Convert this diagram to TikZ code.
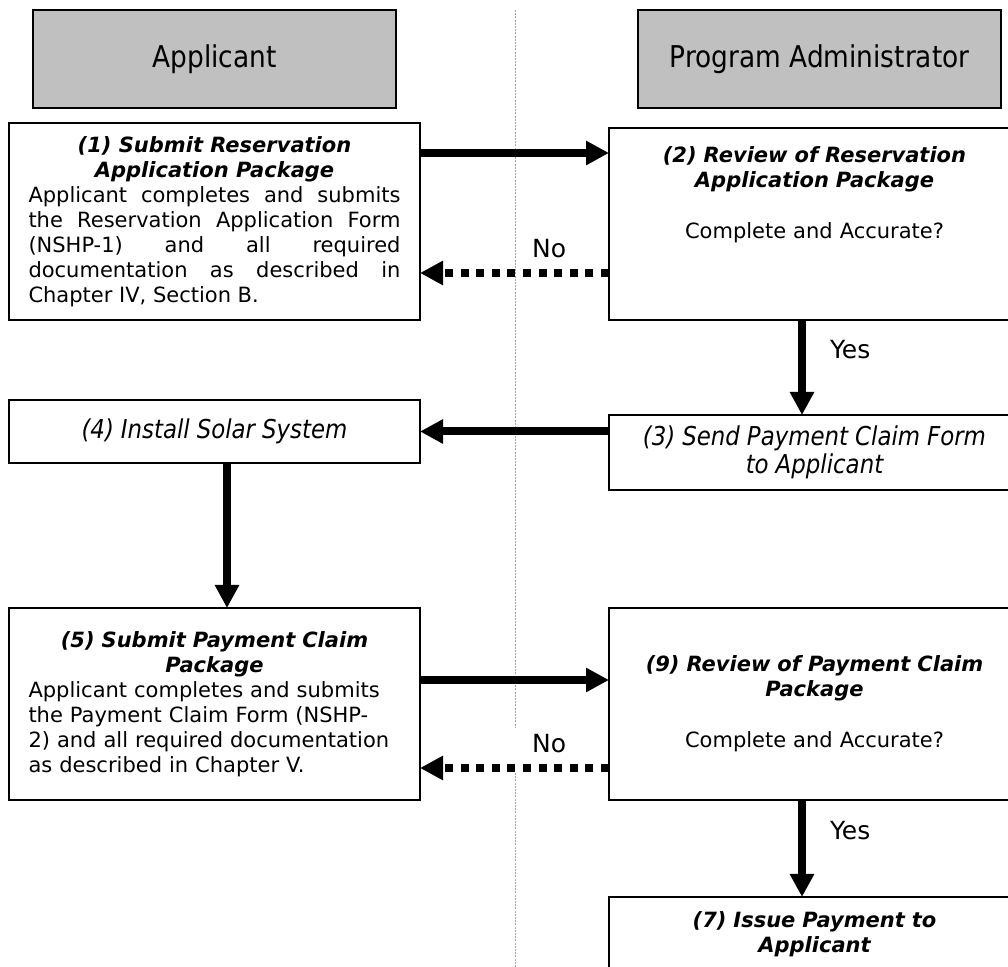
\documentclass[tikz,border=0pt]{standalone}
\usepackage{fontspec}
\setmainfont{DejaVu Sans}
\newfontfamily\narrowfont{DejaVu Sans}[FakeStretch=0.88]
\usetikzlibrary{positioning,arrows.meta}
\definecolor{laneGray}{RGB}{192,192,192}
\newcommand{\steptitle}{\bfseries\itshape}
\newcommand{\stepnarrow}{\narrowfont\itshape\fontsize{13}{14}\selectfont}
\setlength{\parindent}{0pt}
\hyphenpenalty=10000
\begin{document}
\begin{tikzpicture}[x=0.5pt,y=-0.5pt,
    font=\fontsize{10.5}{12.5}\selectfont,
    lane/.style={draw,line width=1pt,fill=laneGray,outer sep=0pt,minimum width=181.5pt,minimum height=49pt,
      font=\narrowfont\fontsize{15}{18}\selectfont},
    stepbox/.style={draw,line width=1pt,fill=white,outer sep=0pt,text width=186pt,inner xsep=9.75pt,inner ysep=0pt},
    flow/.style={line width=4pt,-{Triangle[length=11.5pt,width=11.5pt]}},
    noflow/.style={flow,dash pattern=on 4pt off 3.8pt},
    answer/.style={inner sep=0pt,font=\fontsize{12.5}{14}\selectfont},
    divider/.style={draw=gray!70,line width=0.5pt,dash pattern=on 1pt off 0.6pt}]
  \path[use as bounding box,clip] (0,0) rectangle (1008,967);
  % lane divider
  \draw[divider] (515,10) -- (515,728) (515,773) -- (515,967);
  % lanes
  \node[lane](hdrA) at (214.5,59) {Applicant};
  \node[lane](hdrP)[right=121pt of hdrA] {Program Administrator};
  % steps
  \node[stepbox,align=justify,minimum height=98.5pt](b1)[below=7.5pt of hdrA]{%
    {\centering\steptitle (1) Submit Reservation\\ Application Package\par}
    Applicant completes and submits\linebreak the Reservation Application Form\linebreak
    (NSHP-1) and all required\linebreak documentation as described in\linebreak
    Chapter IV, Section B.};
  \node[stepbox,align=center,minimum height=96pt](b2)[right=94.5pt of b1.south east,anchor=south west]{%
    {\steptitle (2) Review of Reservation\\ Application Package}\\[13pt]
    Complete and Accurate?\par\vspace{18.5pt}\mbox{}};
  \node[stepbox,align=center,minimum height=37.5pt](b3)[below=47.5pt of b2]{%
    {\stepnarrow (3) Send Payment Claim Form\\ to Applicant\par}};
  \node[stepbox,align=center,minimum height=31.5pt](b4)[below=40pt of b1]{%
    {\stepnarrow (4) Install Solar System}};
  \node[stepbox,align=left,minimum height=96pt](b5)[below=72.5pt of b4]{%
    {\centering\steptitle (5) Submit Payment Claim\\ Package\par}
    Applicant completes and submits\\ the Payment Claim Form (NSHP-\\
    2) and all required documentation\\ as described in Chapter V.};
  \node[stepbox,align=center,minimum height=96pt](b9)[right=94.5pt of b5]{%
    {\steptitle (9) Review of Payment Claim\\ Package}\\[13pt]
    Complete and Accurate?};
  \node[stepbox,align=center,minimum height=37.5pt](b7)[below=48.5pt of b9]{%
    {\steptitle (7) Issue Payment to\\ Applicant}};
  % connectors
  \draw[flow] ([yshift=-15pt]b1.north east) -- ([yshift=-12.5pt]b2.north west);
  \draw[noflow] ([yshift=23.5pt]b2.south west) -- node[answer,pos=0.317,above=5.5pt]{No} ([yshift=23.5pt]b1.south east);
  \draw[flow] ([xshift=-6.25pt]b2.south) -- node[answer,pos=0.31,right=12pt]{Yes} ([xshift=-6.25pt]b3.north);
  \draw[flow] (b3.west |- b4.east) -- (b4.east);
  \draw[flow] ([xshift=6.25pt]b4.south) -- ([xshift=6.25pt]b5.north);
  \draw[flow] ([yshift=-36pt]b5.north east) -- ([yshift=-36pt]b9.north west);
  \draw[noflow] ([yshift=16pt]b9.south west) -- node[answer,pos=0.317,above=5.5pt]{No} ([yshift=16pt]b5.south east);
  \draw[flow] ([xshift=-6.25pt]b9.south) -- node[answer,pos=0.31,right=12pt]{Yes} ([xshift=-6.25pt]b7.north);
\end{tikzpicture}
\end{document}
